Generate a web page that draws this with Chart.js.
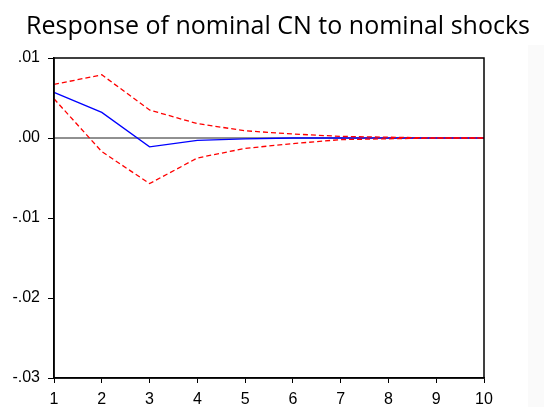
<!DOCTYPE html>
<html>
<head>
<meta charset="utf-8">
<script src="https://cdn.jsdelivr.net/npm/chart.js@4.4.1/dist/chart.umd.min.js"></script>
<style>
  html, body { margin: 0; padding: 0; background: #fff; }
  #wrap { width: 544px; height: 407px; position: relative; }
</style>
</head>
<body>
<div id="wrap"><canvas id="chart-irf"></canvas></div>
<script>
// horizon periods
const periods = ['1', '2', '3', '4', '5', '6', '7', '8', '9', '10'];
// impulse response (blue, solid)
const response = [0.0057, 0.0032, -0.0011, -0.0003, -0.0001, 0.0000, 0.0000, 0.0000, 0.0000, 0.0000];
// +/- 2 s.e. bands (red, dashed)
const upperBand = [0.0067, 0.0079, 0.0035, 0.0018, 0.0009, 0.0005, 0.0002, 0.0001, 0.0000, 0.0000];
const lowerBand = [0.0049, -0.0017, -0.0057, -0.0025, -0.0013, -0.0007, -0.0002, -0.0001, 0.0000, 0.0000];
const yTicks = [0.01, 0.00, -0.01, -0.02, -0.03];

const titleText = 'Response of nominal CN to nominal shocks';

// title, box frame, zero line
const framePlugin = {
  id: 'frame',
  beforeDraw(chart) {
    const c = chart.ctx;
    c.save();
    c.fillStyle = '#fafafa';
    c.fillRect(528, 45, 16, 362);
    c.restore();
  },
  beforeDatasetsDraw(chart) {
    const { ctx: c, chartArea: { left, right }, scales: { y } } = chart;
    const zy = y.getPixelForValue(0);
    c.save();
    c.strokeStyle = '#222';
    c.lineWidth = 1;
    c.beginPath();
    c.moveTo(left, zy);
    c.lineTo(right, zy);
    c.stroke();
    c.restore();
  },
  afterDraw(chart) {
    const { ctx: c, chartArea: { left, right, top, bottom } } = chart;
    c.save();
    c.strokeStyle = '#000';
    c.lineWidth = 1.5;
    c.strokeRect(left, top, right - left, bottom - top);
    c.font = "25px 'Open Sans', sans-serif";
    c.fillStyle = '#000';
    c.textAlign = 'center';
    c.textBaseline = 'alphabetic';
    c.fillText(titleText, 278, 34);
    c.restore();
  }
};

const ctx = document.getElementById('chart-irf');
ctx.chart = new Chart(ctx, {
  type: 'line',
  data: {
    labels: periods,
    datasets: [
      {
        label: 'upper',
        data: upperBand,
        borderColor: '#ff0000',
        borderWidth: 1.3,
        borderDash: [5, 3],
        pointRadius: 0,
        tension: 0,
        fill: false
      },
      {
        label: 'lower',
        data: lowerBand,
        borderColor: '#ff0000',
        borderWidth: 1.3,
        borderDash: [5, 3],
        pointRadius: 0,
        tension: 0,
        fill: false
      },
      {
        label: 'response',
        data: response,
        borderColor: '#0000ff',
        borderWidth: 1.3,
        pointRadius: 0,
        tension: 0,
        fill: false
      }
    ]
  },
  plugins: [framePlugin],
  options: {
    responsive: true,
    maintainAspectRatio: false,
    animation: false,
    layout: { padding: { left: 0, right: 60, top: 58, bottom: 0 } },
    plugins: {
      legend: { display: false },
      tooltip: { enabled: false }
    },
    scales: {
      x: {
        type: 'category',
        offset: false,
        afterFit: (s) => { s.height = 29; },
        grid: { drawOnChartArea: false, drawTicks: true, tickLength: 5, color: '#000', lineWidth: 1 },
        border: { display: true, color: '#000', width: 1.5 },
        ticks: {
          color: '#000',
          font: { family: "'Liberation Sans', Arial, sans-serif", size: 16 },
          padding: 7,
          maxRotation: 0,
          autoSkip: false
        }
      },
      y: {
        min: -0.03,
        max: 0.01,
        afterFit: (s) => { s.width = 54; },
        afterBuildTicks: (s) => { s.ticks = yTicks.map(v => ({ value: v })); },
        grid: { drawOnChartArea: false, drawTicks: true, tickLength: 6, color: '#000', lineWidth: 1 },
        border: { display: true, color: '#000', width: 1.5 },
        ticks: {
          color: '#000',
          font: { family: "'Liberation Sans', Arial, sans-serif", size: 16 },
          padding: 8,
          callback: (v) => {
            const s = Math.abs(v).toFixed(2).replace(/^0/, '');
            return (v < -1e-9 ? '-' : '') + s;
          }
        }
      }
    }
  }
});
</script>
</body>
</html>
